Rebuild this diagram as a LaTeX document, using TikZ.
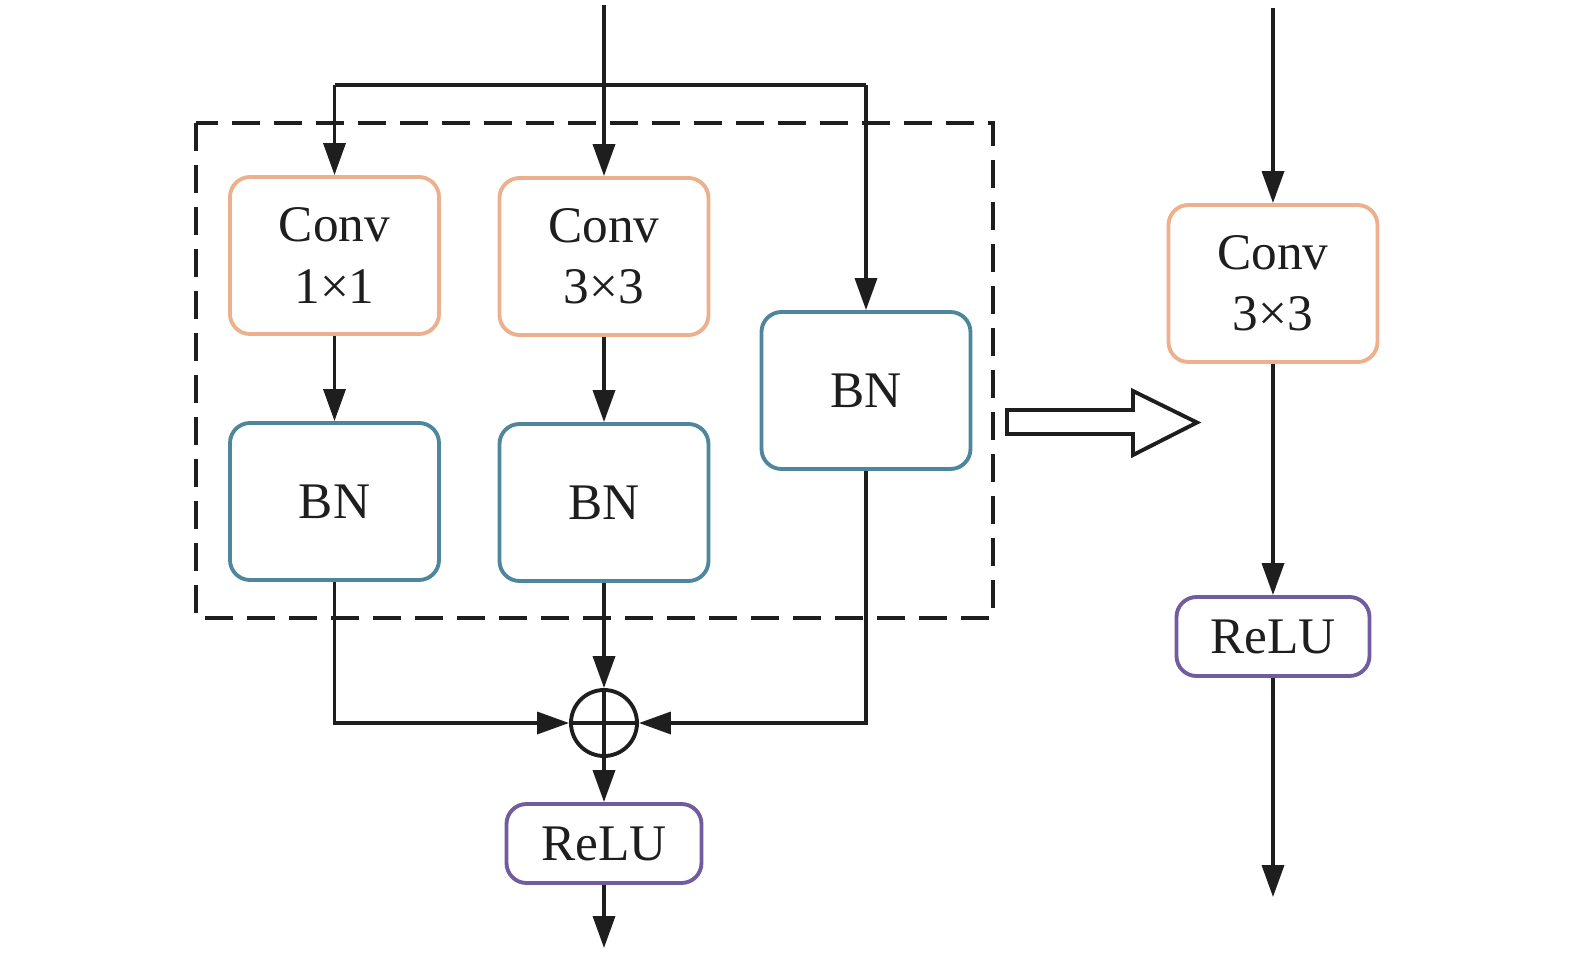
\documentclass[tikz,border=0pt]{standalone}
\usepackage{fontspec}
\setmainfont{Liberation Serif}
\usepackage{tikz}
\usetikzlibrary{arrows.meta,positioning,calc}
\definecolor{rpedge}{RGB}{30,30,30}
\definecolor{rpconv}{RGB}{236,176,140}
\definecolor{rpbn}{RGB}{78,134,156}
\definecolor{rprelu}{RGB}{112,92,158}
\tikzset{
  rpbox/.style={
    draw, line width=1.1pt, rounded corners=2mm, fill=white,
    align=center, inner sep=0pt, font=\fontsize{14.6}{17.5}\selectfont,
    text=rpedge
  },
  convbox/.style={rpbox, draw=rpconv, minimum width=20.9mm, minimum height=15.7mm},
  bnbox/.style={rpbox, draw=rpbn, minimum width=20.9mm, minimum height=15.7mm},
  relubox/.style={rpbox, draw=rprelu, minimum width=19.5mm, minimum height=7.9mm},
  sumnode/.style={draw=rpedge, circle, line width=1.1pt, minimum size=6.6mm, inner sep=0pt},
  arr/.style={-{Triangle[length=3.2mm,width=2.2mm]}, draw=rpedge, line width=1pt},
  line/.style={draw=rpedge, line width=1pt},
  grp/.style={draw=rpedge, dash pattern=on 2.8mm off 1.4mm, line width=1.05pt},
  bigarr/.style={draw=rpedge, line width=1.1pt, fill=white, line join=miter}
}
\begin{document}
\begin{tikzpicture}
  \useasboundingbox (0,0) rectangle (15.75,-9.55);

  % multi-branch block
  \node[convbox] (c1) at (3.345,-2.555) {Conv\\1×1};
  \node[convbox] (c3) at (6.04,-2.565) {Conv\\3×3};
  \node[bnbox] (bn1) at (3.345,-5.015) {BN};
  \node[bnbox] (bn3) at (6.04,-5.025) {BN};
  \node[bnbox] (bnr) at (8.66,-3.905) {BN};
  \node[sumnode] (sum) at (6.04,-7.23) {};
  \node[relubox] (relu) at (6.04,-8.435) {ReLU};

  \coordinate (in) at (6.04,-0.05);
  \coordinate (brl) at (3.345,-0.85);
  \coordinate (brr) at (8.66,-0.85);
  \coordinate (out) at (6.04,-9.48);

  \draw[grp] (1.96,-1.23) rectangle (9.93,-6.18);

  \draw[arr] (in) -- (c3.north);
  \draw[line] (brl) -- (brr);
  \draw[arr] (brl) -- (c1.north);
  \draw[arr] (brr) -- (bnr.north);
  \draw[arr] (c1) -- (bn1);
  \draw[arr] (c3) -- (bn3);
  \draw[arr] (bn1.south) |- (sum.west);
  \draw[arr] (bn3.south) -- (sum.north);
  \draw[arr] (bnr.south) |- (sum.east);
  \draw[line] (sum.north) -- (sum.south) (sum.west) -- (sum.east);
  \draw[arr] (sum) -- (relu);
  \draw[arr] (relu) -- (out);

  % re-parameterisation arrow
  \draw[bigarr] (10.07,-4.10) -- (11.33,-4.10) -- (11.33,-3.91) -- (11.97,-4.225)
    -- (11.33,-4.55) -- (11.33,-4.34) -- (10.07,-4.34) -- cycle;

  % single-branch block
  \node[convbox] (rc3) at (12.73,-2.835) {Conv\\3×3};
  \node[relubox, minimum width=19.3mm] (rrelu) at (12.73,-6.365) {ReLU};
  \coordinate (rin) at (12.73,-0.08);
  \coordinate (rout) at (12.73,-8.97);

  \draw[arr] (rin) -- (rc3.north);
  \draw[arr] (rc3) -- (rrelu);
  \draw[arr] (rrelu) -- (rout);
\end{tikzpicture}
\end{document}
